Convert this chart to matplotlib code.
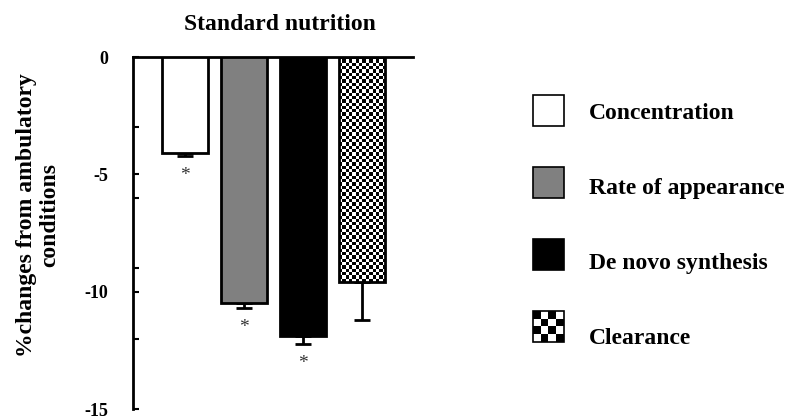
import numpy as np
import matplotlib
matplotlib.use('Agg')
import matplotlib.pyplot as plt
from matplotlib.patches import Rectangle

# ---- data ----
categories = ['Concentration', 'Rate of appearance', 'De novo synthesis', 'Clearance']
values = [-4.1, -10.5, -11.9, -9.6]
errors = [0.1, 0.2, 0.35, 1.6]
significant = [True, True, True, False]
yticks = [0, -5, -10, -15]
ytick_labels = ['0', '-5', '-10', '-15']
minor_ticks = [-3, -6, -9, -12]
title = 'Standard nutrition'
ylabel = '%changes from ambulatory\nconditions'

# ---- style ----
fills = ['white', '#808080', 'black', 'checker']

plt.rcParams['font.family'] = ['Liberation Serif', 'DejaVu Serif']
plt.rcParams['axes.unicode_minus'] = False

W, H = 795, 419
fig = plt.figure(figsize=(W / 100, H / 100), dpi=100)
ax = fig.add_axes([133 / W, 1 - 409 / H, 280 / W, 352 / H])

x = np.arange(len(values))
face = [f if f != 'checker' else 'none' for f in fills]
bars = ax.bar(x, values, width=0.78, color=face, edgecolor='black',
              linewidth=2, zorder=3)
lower = np.array(errors)
upper = np.zeros(len(errors))
ax.errorbar(x, values, yerr=[lower, upper], fmt='none', ecolor='black',
            elinewidth=2, capsize=6, capthick=2, zorder=1)

ax.set_xlim(-0.88, 3.86)
ax.set_ylim(-15, 0)

# checker fill for clearance bar
for i, f in enumerate(fills):
    if f != 'checker':
        continue
    b = bars[i]
    p0 = ax.transData.transform((b.get_x(), b.get_y()))
    p1 = ax.transData.transform((b.get_x() + b.get_width(), b.get_y() + b.get_height()))
    wpx, hpx = abs(p1[0] - p0[0]), abs(p1[1] - p0[1])
    cell = 3.3
    nc, nr = max(1, int(round(wpx / cell))), max(1, int(round(hpx / cell)))
    checker = np.add.outer(np.arange(nr), np.arange(nc)) % 2
    im = ax.imshow(checker, cmap='gray', vmin=0, vmax=1,
                   extent=(b.get_x(), b.get_x() + b.get_width(), values[i], 0),
                   aspect='auto', interpolation='nearest', zorder=2)
    im.set_clip_path(b)

ax.set_xlim(-0.88, 3.86)
ax.set_ylim(-15, 0)

for sp in ['right', 'bottom']:
    ax.spines[sp].set_visible(False)
for sp in ['left', 'top']:
    ax.spines[sp].set_linewidth(2)
ax.set_xticks([])
ax.set_yticks(yticks, ytick_labels)
ax.set_yticks(minor_ticks, minor=True)
ax.tick_params(axis='y', which='both', direction='in', length=4.5, width=1.5)
ax.tick_params(axis='y', which='major', labelsize=13, pad=18)
for lab in ax.get_yticklabels():
    lab.set_fontweight('bold')

# significance asterisks
for i, s in enumerate(significant):
    if s:
        ax.annotate('*', xy=(x[i], values[i] - errors[i]), xytext=(0, -14),
                    textcoords='offset points', ha='center', va='center',
                    fontsize=14, color='#333333')

fig.text(280 / W, 1 - 24 / H, title, ha='center', va='center',
         fontsize=17, fontweight='bold')
fig.text(38 / W, 1 - 215 / H, ylabel, ha='center', va='center', rotation=90,
         fontsize=17, fontweight='bold', multialignment='center',
         linespacing=1.15)

# ---- legend ----
lax = fig.add_axes([0, 0, 1, 1], zorder=5)
lax.axis('off')
for i, (lab, f) in enumerate(zip(categories, fills)):
    top = 95 + 72 * i
    if f == 'checker':
        chk = np.add.outer(np.arange(4), np.arange(4)) % 2
        lax.imshow(chk, cmap='gray', vmin=0, vmax=1,
                   extent=(533, 564, top + 31, top), aspect='auto',
                   interpolation='nearest')
        lax.add_patch(Rectangle((533, top), 31, 31, facecolor='none',
                                edgecolor='black', linewidth=1.2))
    else:
        lax.add_patch(Rectangle((533, top), 31, 31, facecolor=f,
                                edgecolor='black', linewidth=1.2))
    lax.text(589, 113 + 75 * i, lab, ha='left', va='center', fontsize=17,
             fontweight='bold')
lax.set_xlim(0, W)
lax.set_ylim(H, 0)

fig.savefig('out.png', dpi=100)
